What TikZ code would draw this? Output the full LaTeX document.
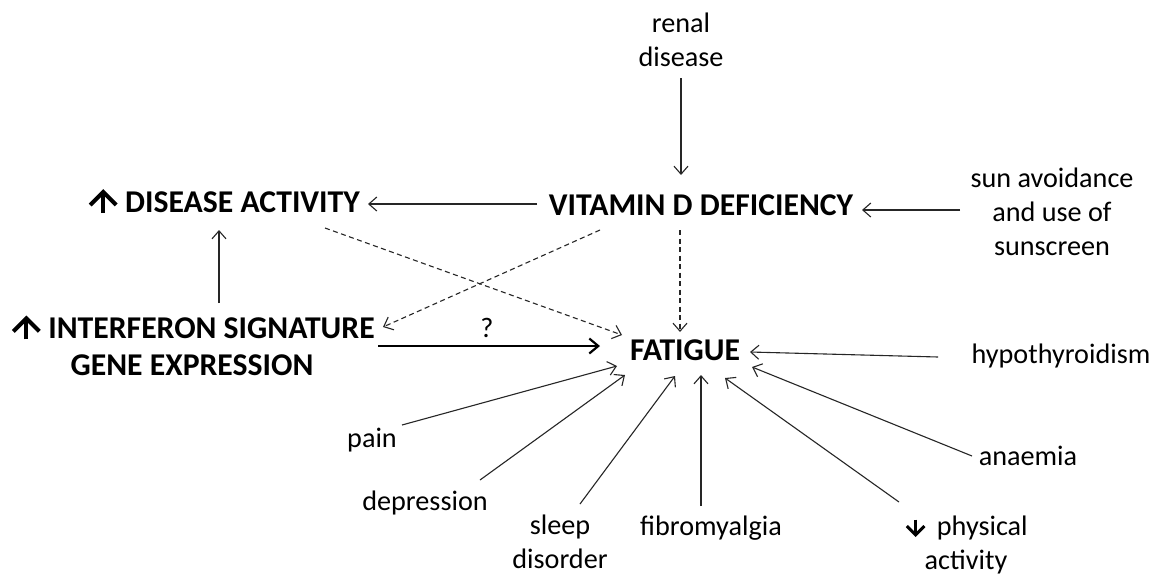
\documentclass[tikz,border=0pt]{standalone}
\usepackage{fontspec}
\setmainfont{Carlito}
\usetikzlibrary{arrows.meta,calc}
% arrow symbols set inline in the labels
\newcommand{\uparr}{\tikz[x=1pt,y=1pt,baseline=0pt,line join=miter]{%
  \draw[line width=4pt] (0,-1) -- (0,18.5);
  \draw[line width=4pt] (-13,7) -- (0,20) -- (13,7);}}
\newcommand{\downarr}{\tikz[x=1pt,y=1pt,baseline=0pt,line join=miter]{%
  \draw[line width=3pt] (0,16) -- (0,1.5);
  \draw[line width=3pt] (-8.8,9.4) -- (0,0.6) -- (8.8,9.4);}}
\begin{document}
\begin{tikzpicture}[x=1pt,y=-1pt,
  lab/.style={font=\fontsize{28.2}{34}\selectfont, align=center, inner sep=0pt},
  big/.style={font=\fontsize{31.7}{37}\selectfont\bfseries, align=center, inner sep=0pt},
  arr/.style={line width=1.1pt, draw=black!85, -{Straight Barb[length=8pt,width=14pt,line width=1.1pt]}},
  darr/.style={arr, dash pattern=on 5pt off 3.5pt},
  tarr/.style={line width=2.4pt, draw=black, -{Straight Barb[length=9pt,width=15pt,line width=2.2pt]}}
]
\useasboundingbox[fill=white] (0,0) rectangle (1164,579);

% main nodes
\node[big, anchor=base] (da) at (223,212) {\hspace{2pt}\uparr\hspace{7pt}DISEASE ACTIVITY};
\node[big, anchor=base] (vitd) at (701,215) {VITAMIN D DEFICIENCY};
\node[big, anchor=base] (fat) at (685,360) {FATIGUE};
\node[big] (ifn) at (192,346) {\hspace{2pt}\uparr\hspace{7pt}INTERFERON SIGNATURE\\GENE EXPRESSION};

% factor nodes
\node[lab] (renal) at (681,40) {renal\\disease};
\node[lab] (sun) at (1052,212) {sun avoidance\\and use of\\sunscreen};
\node[lab, anchor=base] (hypo) at (1061,363) {hypothyroidism};
\node[lab, anchor=base] (anae) at (1028,465) {anaemia};
\node[lab] (phys) at (966,545) {\hspace{1pt}\downarr\hspace{11pt}physical\\activity};
\node[lab, anchor=base] (fibro) at (711,535) {fibromyalgia};
\node[lab] (sleep) at (560,542) {sleep\\disorder};
\node[lab, anchor=base] (dep) at (425,510) {depression};
\node[lab, anchor=base] (pain) at (372,447) {pain};

% connectors
\draw[arr] ($(renal.center)+(0,38)$) -- ($(vitd.base)+(-20,-40)$);
\draw[arr] ($(vitd.base)+(-164,-11)$) -- ($(da.base)+(145,-8)$);
\draw[arr] ($(sun.center)+(-92,-2)$) -- ($(vitd.base)+(161,-5)$);
\draw[arr] ($(ifn.center)+(27,-43)$) -- ($(da.base)+(-4,18)$);
\draw[tarr] ($(ifn.center)+(186,0)$) -- node[lab, pos=0.49, anchor=base, yshift=9pt] (q) {?} ($(fat.base)+(-85,-14)$);
\draw[darr] ($(da.base)+(102,16)$) -- ($(fat.base)+(-63,-25)$);
\draw[darr] ($(vitd.base)+(-101,15)$) -- ($(ifn.center)+(191,-19)$);
\draw[darr] ($(vitd.base)+(-21,15)$) -- ($(fat.base)+(-5,-28)$);
\draw[arr] ($(hypo.base)+(-123,-6)$) -- ($(fat.base)+(65,-8)$);
\draw[arr] ($(anae.base)+(-56,-9)$) -- ($(fat.base)+(67,7)$);
\draw[arr] ($(phys.center)+(-67,-43)$) -- ($(fat.base)+(40,18)$);
\draw[arr] ($(fibro.base)+(-10,-29)$) -- ($(fat.base)+(16,15)$);
\draw[arr] ($(sleep.center)+(20,-38)$) -- ($(fat.base)+(-10,16)$);
\draw[arr] ($(dep.base)+(55,-30)$) -- ($(fat.base)+(-60,15)$);
\draw[arr] ($(pain.base)+(30,-22)$) -- ($(fat.base)+(-68,6)$);
\end{tikzpicture}
\end{document}
